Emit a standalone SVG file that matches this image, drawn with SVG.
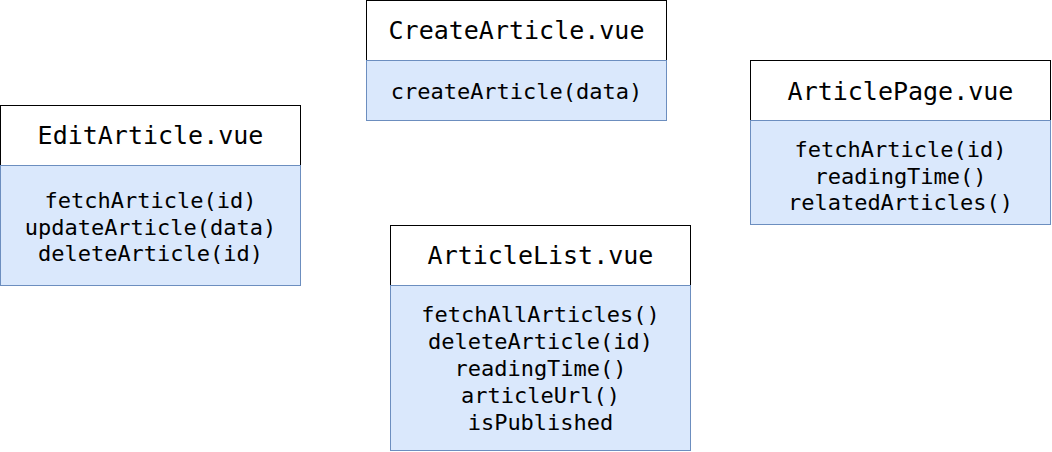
<svg xmlns="http://www.w3.org/2000/svg" width="1052" height="452" viewBox="0 0 1052 452">
<style>
.hd{fill:#ffffff;stroke:#000000;stroke-width:1}
.bd{fill:#dae8fc;stroke:#6c8ebf;stroke-width:1}
.ht{font-family:"DejaVu Sans Mono","Liberation Mono",monospace;font-size:25px;fill:#000;text-anchor:middle}
.bt{font-family:"DejaVu Sans Mono","Liberation Mono",monospace;font-size:22px;fill:#000;text-anchor:middle}
</style>
<rect width="1052" height="452" fill="#ffffff"/>
<g id="connectors"></g>
<g id="EditArticle">
<rect class="hd" x="0.5" y="105.5" width="300" height="60"/>
<rect class="bd" x="0.5" y="165.5" width="300" height="120"/>
<text class="ht" x="150.5" y="143.5">EditArticle.vue</text>
<text class="bt" x="150.5" y="208">fetchArticle(id)</text>
<text class="bt" x="150.5" y="234.5">updateArticle(data)</text>
<text class="bt" x="150.5" y="261">deleteArticle(id)</text>
</g>
<g id="CreateArticle">
<rect class="hd" x="366.5" y="0.5" width="300" height="60"/>
<rect class="bd" x="366.5" y="60.5" width="300" height="60"/>
<text class="ht" x="516.5" y="39">CreateArticle.vue</text>
<text class="bt" x="516.5" y="99">createArticle(data)</text>
</g>
<g id="ArticleList">
<rect class="hd" x="390.5" y="225.5" width="300" height="60"/>
<rect class="bd" x="390.5" y="285.5" width="300" height="165"/>
<text class="ht" x="540.5" y="264">ArticleList.vue</text>
<text class="bt" x="540.5" y="322">fetchAllArticles()</text>
<text class="bt" x="540.5" y="349">deleteArticle(id)</text>
<text class="bt" x="540.5" y="376">readingTime()</text>
<text class="bt" x="540.5" y="403">articleUrl()</text>
<text class="bt" x="540.5" y="430">isPublished</text>
</g>
<g id="ArticlePage">
<rect class="hd" x="750.5" y="60.5" width="300" height="60"/>
<rect class="bd" x="750.5" y="120.5" width="300" height="104"/>
<text class="ht" x="900.5" y="100">ArticlePage.vue</text>
<text class="bt" x="900.5" y="157">fetchArticle(id)</text>
<text class="bt" x="900.5" y="183.5">readingTime()</text>
<text class="bt" x="900.5" y="210">relatedArticles()</text>
</g>
</svg>
